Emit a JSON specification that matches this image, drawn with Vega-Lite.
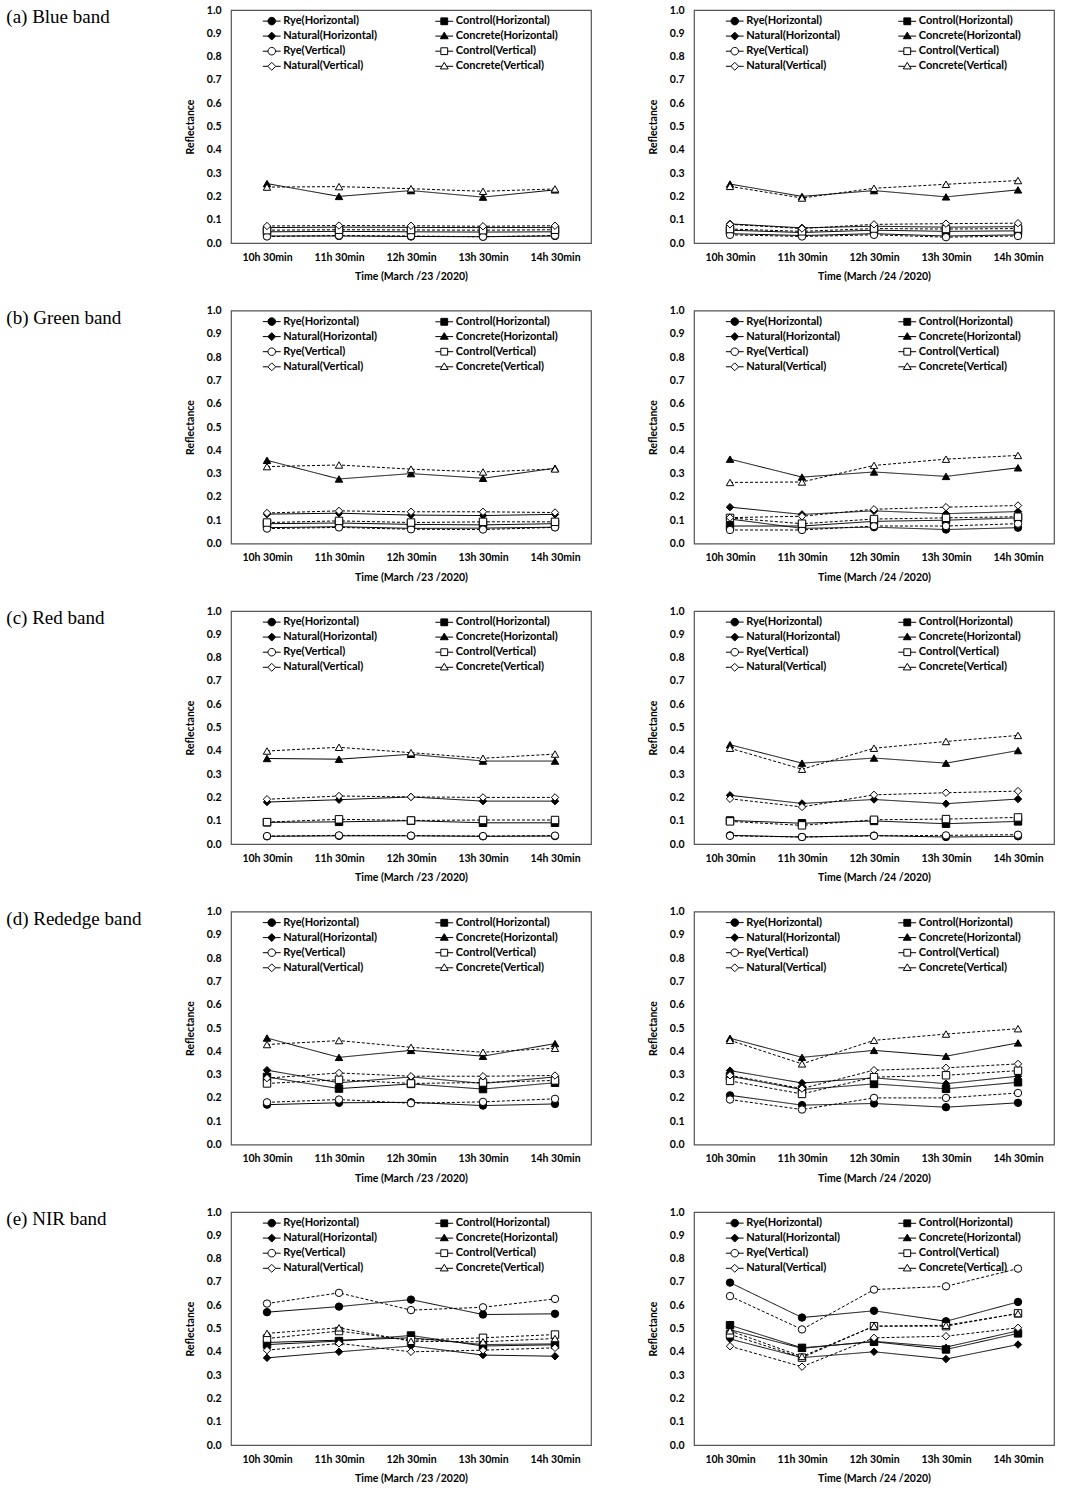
{
"$schema": "https://vega.github.io/schema/vega-lite/v6.json",
"padding": {"left": 5, "top": 4, "right": 5, "bottom": 5},
"datasets": {
"a23": [
{"series":"Rye(Horizontal)","time":"10h 30min","value":0.030},{"series":"Rye(Horizontal)","time":"11h 30min","value":0.030},{"series":"Rye(Horizontal)","time":"12h 30min","value":0.028},{"series":"Rye(Horizontal)","time":"13h 30min","value":0.027},{"series":"Rye(Horizontal)","time":"14h 30min","value":0.030},
{"series":"Control(Horizontal)","time":"10h 30min","value":0.048},{"series":"Control(Horizontal)","time":"11h 30min","value":0.050},{"series":"Control(Horizontal)","time":"12h 30min","value":0.048},{"series":"Control(Horizontal)","time":"13h 30min","value":0.047},{"series":"Control(Horizontal)","time":"14h 30min","value":0.048},
{"series":"Natural(Horizontal)","time":"10h 30min","value":0.066},{"series":"Natural(Horizontal)","time":"11h 30min","value":0.068},{"series":"Natural(Horizontal)","time":"12h 30min","value":0.067},{"series":"Natural(Horizontal)","time":"13h 30min","value":0.066},{"series":"Natural(Horizontal)","time":"14h 30min","value":0.067},
{"series":"Concrete(Horizontal)","time":"10h 30min","value":0.255},{"series":"Concrete(Horizontal)","time":"11h 30min","value":0.200},{"series":"Concrete(Horizontal)","time":"12h 30min","value":0.225},{"series":"Concrete(Horizontal)","time":"13h 30min","value":0.197},{"series":"Concrete(Horizontal)","time":"14h 30min","value":0.228},
{"series":"Rye(Vertical)","time":"10h 30min","value":0.028},{"series":"Rye(Vertical)","time":"11h 30min","value":0.032},{"series":"Rye(Vertical)","time":"12h 30min","value":0.030},{"series":"Rye(Vertical)","time":"13h 30min","value":0.027},{"series":"Rye(Vertical)","time":"14h 30min","value":0.032},
{"series":"Control(Vertical)","time":"10h 30min","value":0.055},{"series":"Control(Vertical)","time":"11h 30min","value":0.057},{"series":"Control(Vertical)","time":"12h 30min","value":0.056},{"series":"Control(Vertical)","time":"13h 30min","value":0.055},{"series":"Control(Vertical)","time":"14h 30min","value":0.057},
{"series":"Natural(Vertical)","time":"10h 30min","value":0.073},{"series":"Natural(Vertical)","time":"11h 30min","value":0.075},{"series":"Natural(Vertical)","time":"12h 30min","value":0.074},{"series":"Natural(Vertical)","time":"13h 30min","value":0.072},{"series":"Natural(Vertical)","time":"14h 30min","value":0.074},
{"series":"Concrete(Vertical)","time":"10h 30min","value":0.240},{"series":"Concrete(Vertical)","time":"11h 30min","value":0.242},{"series":"Concrete(Vertical)","time":"12h 30min","value":0.233},{"series":"Concrete(Vertical)","time":"13h 30min","value":0.222},{"series":"Concrete(Vertical)","time":"14h 30min","value":0.232}
],
"a24": [
{"series":"Rye(Horizontal)","time":"10h 30min","value":0.040},{"series":"Rye(Horizontal)","time":"11h 30min","value":0.032},{"series":"Rye(Horizontal)","time":"12h 30min","value":0.040},{"series":"Rye(Horizontal)","time":"13h 30min","value":0.030},{"series":"Rye(Horizontal)","time":"14h 30min","value":0.035},
{"series":"Control(Horizontal)","time":"10h 30min","value":0.055},{"series":"Control(Horizontal)","time":"11h 30min","value":0.045},{"series":"Control(Horizontal)","time":"12h 30min","value":0.055},{"series":"Control(Horizontal)","time":"13h 30min","value":0.050},{"series":"Control(Horizontal)","time":"14h 30min","value":0.052},
{"series":"Natural(Horizontal)","time":"10h 30min","value":0.082},{"series":"Natural(Horizontal)","time":"11h 30min","value":0.065},{"series":"Natural(Horizontal)","time":"12h 30min","value":0.072},{"series":"Natural(Horizontal)","time":"13h 30min","value":0.068},{"series":"Natural(Horizontal)","time":"14h 30min","value":0.070},
{"series":"Concrete(Horizontal)","time":"10h 30min","value":0.253},{"series":"Concrete(Horizontal)","time":"11h 30min","value":0.200},{"series":"Concrete(Horizontal)","time":"12h 30min","value":0.225},{"series":"Concrete(Horizontal)","time":"13h 30min","value":0.198},{"series":"Concrete(Horizontal)","time":"14h 30min","value":0.228},
{"series":"Rye(Vertical)","time":"10h 30min","value":0.035},{"series":"Rye(Vertical)","time":"11h 30min","value":0.028},{"series":"Rye(Vertical)","time":"12h 30min","value":0.035},{"series":"Rye(Vertical)","time":"13h 30min","value":0.025},{"series":"Rye(Vertical)","time":"14h 30min","value":0.030},
{"series":"Control(Vertical)","time":"10h 30min","value":0.060},{"series":"Control(Vertical)","time":"11h 30min","value":0.050},{"series":"Control(Vertical)","time":"12h 30min","value":0.062},{"series":"Control(Vertical)","time":"13h 30min","value":0.060},{"series":"Control(Vertical)","time":"14h 30min","value":0.062},
{"series":"Natural(Vertical)","time":"10h 30min","value":0.080},{"series":"Natural(Vertical)","time":"11h 30min","value":0.062},{"series":"Natural(Vertical)","time":"12h 30min","value":0.080},{"series":"Natural(Vertical)","time":"13h 30min","value":0.083},{"series":"Natural(Vertical)","time":"14h 30min","value":0.085},
{"series":"Concrete(Vertical)","time":"10h 30min","value":0.243},{"series":"Concrete(Vertical)","time":"11h 30min","value":0.193},{"series":"Concrete(Vertical)","time":"12h 30min","value":0.235},{"series":"Concrete(Vertical)","time":"13h 30min","value":0.252},{"series":"Concrete(Vertical)","time":"14h 30min","value":0.268}
],
"b23": [
{"series":"Rye(Horizontal)","time":"10h 30min","value":0.068},{"series":"Rye(Horizontal)","time":"11h 30min","value":0.072},{"series":"Rye(Horizontal)","time":"12h 30min","value":0.065},{"series":"Rye(Horizontal)","time":"13h 30min","value":0.066},{"series":"Rye(Horizontal)","time":"14h 30min","value":0.070},
{"series":"Control(Horizontal)","time":"10h 30min","value":0.085},{"series":"Control(Horizontal)","time":"11h 30min","value":0.088},{"series":"Control(Horizontal)","time":"12h 30min","value":0.082},{"series":"Control(Horizontal)","time":"13h 30min","value":0.080},{"series":"Control(Horizontal)","time":"14h 30min","value":0.085},
{"series":"Natural(Horizontal)","time":"10h 30min","value":0.126},{"series":"Natural(Horizontal)","time":"11h 30min","value":0.130},{"series":"Natural(Horizontal)","time":"12h 30min","value":0.122},{"series":"Natural(Horizontal)","time":"13h 30min","value":0.120},{"series":"Natural(Horizontal)","time":"14h 30min","value":0.125},
{"series":"Concrete(Horizontal)","time":"10h 30min","value":0.357},{"series":"Concrete(Horizontal)","time":"11h 30min","value":0.277},{"series":"Concrete(Horizontal)","time":"12h 30min","value":0.300},{"series":"Concrete(Horizontal)","time":"13h 30min","value":0.280},{"series":"Concrete(Horizontal)","time":"14h 30min","value":0.323},
{"series":"Rye(Vertical)","time":"10h 30min","value":0.064},{"series":"Rye(Vertical)","time":"11h 30min","value":0.069},{"series":"Rye(Vertical)","time":"12h 30min","value":0.061},{"series":"Rye(Vertical)","time":"13h 30min","value":0.060},{"series":"Rye(Vertical)","time":"14h 30min","value":0.069},
{"series":"Control(Vertical)","time":"10h 30min","value":0.090},{"series":"Control(Vertical)","time":"11h 30min","value":0.097},{"series":"Control(Vertical)","time":"12h 30min","value":0.090},{"series":"Control(Vertical)","time":"13h 30min","value":0.093},{"series":"Control(Vertical)","time":"14h 30min","value":0.093},
{"series":"Natural(Vertical)","time":"10h 30min","value":0.131},{"series":"Natural(Vertical)","time":"11h 30min","value":0.140},{"series":"Natural(Vertical)","time":"12h 30min","value":0.136},{"series":"Natural(Vertical)","time":"13h 30min","value":0.136},{"series":"Natural(Vertical)","time":"14h 30min","value":0.133},
{"series":"Concrete(Vertical)","time":"10h 30min","value":0.330},{"series":"Concrete(Vertical)","time":"11h 30min","value":0.337},{"series":"Concrete(Vertical)","time":"12h 30min","value":0.319},{"series":"Concrete(Vertical)","time":"13h 30min","value":0.307},{"series":"Concrete(Vertical)","time":"14h 30min","value":0.320}
],
"b24": [
{"series":"Rye(Horizontal)","time":"10h 30min","value":0.105},{"series":"Rye(Horizontal)","time":"11h 30min","value":0.065},{"series":"Rye(Horizontal)","time":"12h 30min","value":0.070},{"series":"Rye(Horizontal)","time":"13h 30min","value":0.060},{"series":"Rye(Horizontal)","time":"14h 30min","value":0.068},
{"series":"Control(Horizontal)","time":"10h 30min","value":0.075},{"series":"Control(Horizontal)","time":"11h 30min","value":0.075},{"series":"Control(Horizontal)","time":"12h 30min","value":0.095},{"series":"Control(Horizontal)","time":"13h 30min","value":0.100},{"series":"Control(Horizontal)","time":"14h 30min","value":0.110},
{"series":"Natural(Horizontal)","time":"10h 30min","value":0.156},{"series":"Natural(Horizontal)","time":"11h 30min","value":0.125},{"series":"Natural(Horizontal)","time":"12h 30min","value":0.140},{"series":"Natural(Horizontal)","time":"13h 30min","value":0.128},{"series":"Natural(Horizontal)","time":"14h 30min","value":0.137},
{"series":"Concrete(Horizontal)","time":"10h 30min","value":0.362},{"series":"Concrete(Horizontal)","time":"11h 30min","value":0.285},{"series":"Concrete(Horizontal)","time":"12h 30min","value":0.307},{"series":"Concrete(Horizontal)","time":"13h 30min","value":0.288},{"series":"Concrete(Horizontal)","time":"14h 30min","value":0.325},
{"series":"Rye(Vertical)","time":"10h 30min","value":0.058},{"series":"Rye(Vertical)","time":"11h 30min","value":0.058},{"series":"Rye(Vertical)","time":"12h 30min","value":0.075},{"series":"Rye(Vertical)","time":"13h 30min","value":0.075},{"series":"Rye(Vertical)","time":"14h 30min","value":0.085},
{"series":"Control(Vertical)","time":"10h 30min","value":0.110},{"series":"Control(Vertical)","time":"11h 30min","value":0.085},{"series":"Control(Vertical)","time":"12h 30min","value":0.105},{"series":"Control(Vertical)","time":"13h 30min","value":0.110},{"series":"Control(Vertical)","time":"14h 30min","value":0.115},
{"series":"Natural(Vertical)","time":"10h 30min","value":0.111},{"series":"Natural(Vertical)","time":"11h 30min","value":0.117},{"series":"Natural(Vertical)","time":"12h 30min","value":0.147},{"series":"Natural(Vertical)","time":"13h 30min","value":0.156},{"series":"Natural(Vertical)","time":"14h 30min","value":0.163},
{"series":"Concrete(Vertical)","time":"10h 30min","value":0.262},{"series":"Concrete(Vertical)","time":"11h 30min","value":0.264},{"series":"Concrete(Vertical)","time":"12h 30min","value":0.335},{"series":"Concrete(Vertical)","time":"13h 30min","value":0.362},{"series":"Concrete(Vertical)","time":"14h 30min","value":0.378}
],
"c23": [
{"series":"Rye(Horizontal)","time":"10h 30min","value":0.033},{"series":"Rye(Horizontal)","time":"11h 30min","value":0.035},{"series":"Rye(Horizontal)","time":"12h 30min","value":0.035},{"series":"Rye(Horizontal)","time":"13h 30min","value":0.033},{"series":"Rye(Horizontal)","time":"14h 30min","value":0.034},
{"series":"Control(Horizontal)","time":"10h 30min","value":0.093},{"series":"Control(Horizontal)","time":"11h 30min","value":0.095},{"series":"Control(Horizontal)","time":"12h 30min","value":0.100},{"series":"Control(Horizontal)","time":"13h 30min","value":0.091},{"series":"Control(Horizontal)","time":"14h 30min","value":0.091},
{"series":"Natural(Horizontal)","time":"10h 30min","value":0.180},{"series":"Natural(Horizontal)","time":"11h 30min","value":0.190},{"series":"Natural(Horizontal)","time":"12h 30min","value":0.202},{"series":"Natural(Horizontal)","time":"13h 30min","value":0.184},{"series":"Natural(Horizontal)","time":"14h 30min","value":0.184},
{"series":"Concrete(Horizontal)","time":"10h 30min","value":0.367},{"series":"Concrete(Horizontal)","time":"11h 30min","value":0.364},{"series":"Concrete(Horizontal)","time":"12h 30min","value":0.385},{"series":"Concrete(Horizontal)","time":"13h 30min","value":0.356},{"series":"Concrete(Horizontal)","time":"14h 30min","value":0.356},
{"series":"Rye(Vertical)","time":"10h 30min","value":0.034},{"series":"Rye(Vertical)","time":"11h 30min","value":0.037},{"series":"Rye(Vertical)","time":"12h 30min","value":0.036},{"series":"Rye(Vertical)","time":"13h 30min","value":0.034},{"series":"Rye(Vertical)","time":"14h 30min","value":0.036},
{"series":"Control(Vertical)","time":"10h 30min","value":0.094},{"series":"Control(Vertical)","time":"11h 30min","value":0.106},{"series":"Control(Vertical)","time":"12h 30min","value":0.101},{"series":"Control(Vertical)","time":"13h 30min","value":0.103},{"series":"Control(Vertical)","time":"14h 30min","value":0.103},
{"series":"Natural(Vertical)","time":"10h 30min","value":0.192},{"series":"Natural(Vertical)","time":"11h 30min","value":0.206},{"series":"Natural(Vertical)","time":"12h 30min","value":0.202},{"series":"Natural(Vertical)","time":"13h 30min","value":0.200},{"series":"Natural(Vertical)","time":"14h 30min","value":0.200},
{"series":"Concrete(Vertical)","time":"10h 30min","value":0.399},{"series":"Concrete(Vertical)","time":"11h 30min","value":0.415},{"series":"Concrete(Vertical)","time":"12h 30min","value":0.392},{"series":"Concrete(Vertical)","time":"13h 30min","value":0.368},{"series":"Concrete(Vertical)","time":"14h 30min","value":0.386}
],
"c24": [
{"series":"Rye(Horizontal)","time":"10h 30min","value":0.037},{"series":"Rye(Horizontal)","time":"11h 30min","value":0.030},{"series":"Rye(Horizontal)","time":"12h 30min","value":0.036},{"series":"Rye(Horizontal)","time":"13h 30min","value":0.030},{"series":"Rye(Horizontal)","time":"14h 30min","value":0.033},
{"series":"Control(Horizontal)","time":"10h 30min","value":0.101},{"series":"Control(Horizontal)","time":"11h 30min","value":0.089},{"series":"Control(Horizontal)","time":"12h 30min","value":0.099},{"series":"Control(Horizontal)","time":"13h 30min","value":0.087},{"series":"Control(Horizontal)","time":"14h 30min","value":0.097},
{"series":"Natural(Horizontal)","time":"10h 30min","value":0.209},{"series":"Natural(Horizontal)","time":"11h 30min","value":0.174},{"series":"Natural(Horizontal)","time":"12h 30min","value":0.191},{"series":"Natural(Horizontal)","time":"13h 30min","value":0.173},{"series":"Natural(Horizontal)","time":"14h 30min","value":0.193},
{"series":"Concrete(Horizontal)","time":"10h 30min","value":0.426},{"series":"Concrete(Horizontal)","time":"11h 30min","value":0.347},{"series":"Concrete(Horizontal)","time":"12h 30min","value":0.369},{"series":"Concrete(Horizontal)","time":"13h 30min","value":0.347},{"series":"Concrete(Horizontal)","time":"14h 30min","value":0.401},
{"series":"Rye(Vertical)","time":"10h 30min","value":0.035},{"series":"Rye(Vertical)","time":"11h 30min","value":0.030},{"series":"Rye(Vertical)","time":"12h 30min","value":0.035},{"series":"Rye(Vertical)","time":"13h 30min","value":0.037},{"series":"Rye(Vertical)","time":"14h 30min","value":0.040},
{"series":"Control(Vertical)","time":"10h 30min","value":0.097},{"series":"Control(Vertical)","time":"11h 30min","value":0.080},{"series":"Control(Vertical)","time":"12h 30min","value":0.104},{"series":"Control(Vertical)","time":"13h 30min","value":0.107},{"series":"Control(Vertical)","time":"14h 30min","value":0.114},
{"series":"Natural(Vertical)","time":"10h 30min","value":0.194},{"series":"Natural(Vertical)","time":"11h 30min","value":0.159},{"series":"Natural(Vertical)","time":"12h 30min","value":0.211},{"series":"Natural(Vertical)","time":"13h 30min","value":0.220},{"series":"Natural(Vertical)","time":"14h 30min","value":0.227},
{"series":"Concrete(Vertical)","time":"10h 30min","value":0.411},{"series":"Concrete(Vertical)","time":"11h 30min","value":0.321},{"series":"Concrete(Vertical)","time":"12h 30min","value":0.411},{"series":"Concrete(Vertical)","time":"13h 30min","value":0.440},{"series":"Concrete(Vertical)","time":"14h 30min","value":0.466}
],
"d23": [
{"series":"Rye(Horizontal)","time":"10h 30min","value":0.171},{"series":"Rye(Horizontal)","time":"11h 30min","value":0.179},{"series":"Rye(Horizontal)","time":"12h 30min","value":0.181},{"series":"Rye(Horizontal)","time":"13h 30min","value":0.167},{"series":"Rye(Horizontal)","time":"14h 30min","value":0.174},
{"series":"Control(Horizontal)","time":"10h 30min","value":0.290},{"series":"Control(Horizontal)","time":"11h 30min","value":0.240},{"series":"Control(Horizontal)","time":"12h 30min","value":0.260},{"series":"Control(Horizontal)","time":"13h 30min","value":0.238},{"series":"Control(Horizontal)","time":"14h 30min","value":0.265},
{"series":"Natural(Horizontal)","time":"10h 30min","value":0.319},{"series":"Natural(Horizontal)","time":"11h 30min","value":0.265},{"series":"Natural(Horizontal)","time":"12h 30min","value":0.290},{"series":"Natural(Horizontal)","time":"13h 30min","value":0.262},{"series":"Natural(Horizontal)","time":"14h 30min","value":0.290},
{"series":"Concrete(Horizontal)","time":"10h 30min","value":0.457},{"series":"Concrete(Horizontal)","time":"11h 30min","value":0.374},{"series":"Concrete(Horizontal)","time":"12h 30min","value":0.404},{"series":"Concrete(Horizontal)","time":"13h 30min","value":0.379},{"series":"Concrete(Horizontal)","time":"14h 30min","value":0.433},
{"series":"Rye(Vertical)","time":"10h 30min","value":0.181},{"series":"Rye(Vertical)","time":"11h 30min","value":0.193},{"series":"Rye(Vertical)","time":"12h 30min","value":0.177},{"series":"Rye(Vertical)","time":"13h 30min","value":0.183},{"series":"Rye(Vertical)","time":"14h 30min","value":0.196},
{"series":"Control(Vertical)","time":"10h 30min","value":0.262},{"series":"Control(Vertical)","time":"11h 30min","value":0.278},{"series":"Control(Vertical)","time":"12h 30min","value":0.262},{"series":"Control(Vertical)","time":"13h 30min","value":0.266},{"series":"Control(Vertical)","time":"14h 30min","value":0.275},
{"series":"Natural(Vertical)","time":"10h 30min","value":0.285},{"series":"Natural(Vertical)","time":"11h 30min","value":0.307},{"series":"Natural(Vertical)","time":"12h 30min","value":0.293},{"series":"Natural(Vertical)","time":"13h 30min","value":0.293},{"series":"Natural(Vertical)","time":"14h 30min","value":0.296},
{"series":"Concrete(Vertical)","time":"10h 30min","value":0.429},{"series":"Concrete(Vertical)","time":"11h 30min","value":0.446},{"series":"Concrete(Vertical)","time":"12h 30min","value":0.417},{"series":"Concrete(Vertical)","time":"13h 30min","value":0.396},{"series":"Concrete(Vertical)","time":"14h 30min","value":0.413}
],
"d24": [
{"series":"Rye(Horizontal)","time":"10h 30min","value":0.211},{"series":"Rye(Horizontal)","time":"11h 30min","value":0.169},{"series":"Rye(Horizontal)","time":"12h 30min","value":0.176},{"series":"Rye(Horizontal)","time":"13h 30min","value":0.160},{"series":"Rye(Horizontal)","time":"14h 30min","value":0.179},
{"series":"Control(Horizontal)","time":"10h 30min","value":0.293},{"series":"Control(Horizontal)","time":"11h 30min","value":0.236},{"series":"Control(Horizontal)","time":"12h 30min","value":0.260},{"series":"Control(Horizontal)","time":"13h 30min","value":0.239},{"series":"Control(Horizontal)","time":"14h 30min","value":0.267},
{"series":"Natural(Horizontal)","time":"10h 30min","value":0.317},{"series":"Natural(Horizontal)","time":"11h 30min","value":0.264},{"series":"Natural(Horizontal)","time":"12h 30min","value":0.286},{"series":"Natural(Horizontal)","time":"13h 30min","value":0.261},{"series":"Natural(Horizontal)","time":"14h 30min","value":0.293},
{"series":"Concrete(Horizontal)","time":"10h 30min","value":0.456},{"series":"Concrete(Horizontal)","time":"11h 30min","value":0.374},{"series":"Concrete(Horizontal)","time":"12h 30min","value":0.404},{"series":"Concrete(Horizontal)","time":"13h 30min","value":0.379},{"series":"Concrete(Horizontal)","time":"14h 30min","value":0.436},
{"series":"Rye(Vertical)","time":"10h 30min","value":0.193},{"series":"Rye(Vertical)","time":"11h 30min","value":0.150},{"series":"Rye(Vertical)","time":"12h 30min","value":0.200},{"series":"Rye(Vertical)","time":"13h 30min","value":0.200},{"series":"Rye(Vertical)","time":"14h 30min","value":0.221},
{"series":"Control(Vertical)","time":"10h 30min","value":0.273},{"series":"Control(Vertical)","time":"11h 30min","value":0.217},{"series":"Control(Vertical)","time":"12h 30min","value":0.289},{"series":"Control(Vertical)","time":"13h 30min","value":0.297},{"series":"Control(Vertical)","time":"14h 30min","value":0.317},
{"series":"Natural(Vertical)","time":"10h 30min","value":0.297},{"series":"Natural(Vertical)","time":"11h 30min","value":0.240},{"series":"Natural(Vertical)","time":"12h 30min","value":0.319},{"series":"Natural(Vertical)","time":"13h 30min","value":0.329},{"series":"Natural(Vertical)","time":"14h 30min","value":0.346},
{"series":"Concrete(Vertical)","time":"10h 30min","value":0.447},{"series":"Concrete(Vertical)","time":"11h 30min","value":0.346},{"series":"Concrete(Vertical)","time":"12h 30min","value":0.447},{"series":"Concrete(Vertical)","time":"13h 30min","value":0.474},{"series":"Concrete(Vertical)","time":"14h 30min","value":0.497}
],
"e23": [
{"series":"Rye(Horizontal)","time":"10h 30min","value":0.570},{"series":"Rye(Horizontal)","time":"11h 30min","value":0.594},{"series":"Rye(Horizontal)","time":"12h 30min","value":0.624},{"series":"Rye(Horizontal)","time":"13h 30min","value":0.560},{"series":"Rye(Horizontal)","time":"14h 30min","value":0.563},
{"series":"Control(Horizontal)","time":"10h 30min","value":0.431},{"series":"Control(Horizontal)","time":"11h 30min","value":0.446},{"series":"Control(Horizontal)","time":"12h 30min","value":0.470},{"series":"Control(Horizontal)","time":"13h 30min","value":0.425},{"series":"Control(Horizontal)","time":"14h 30min","value":0.430},
{"series":"Natural(Horizontal)","time":"10h 30min","value":0.374},{"series":"Natural(Horizontal)","time":"11h 30min","value":0.400},{"series":"Natural(Horizontal)","time":"12h 30min","value":0.425},{"series":"Natural(Horizontal)","time":"13h 30min","value":0.386},{"series":"Natural(Horizontal)","time":"14h 30min","value":0.381},
{"series":"Concrete(Horizontal)","time":"10h 30min","value":0.440},{"series":"Concrete(Horizontal)","time":"11h 30min","value":0.450},{"series":"Concrete(Horizontal)","time":"12h 30min","value":0.460},{"series":"Concrete(Horizontal)","time":"13h 30min","value":0.431},{"series":"Concrete(Horizontal)","time":"14h 30min","value":0.434},
{"series":"Rye(Vertical)","time":"10h 30min","value":0.607},{"series":"Rye(Vertical)","time":"11h 30min","value":0.653},{"series":"Rye(Vertical)","time":"12h 30min","value":0.579},{"series":"Rye(Vertical)","time":"13h 30min","value":0.591},{"series":"Rye(Vertical)","time":"14h 30min","value":0.627},
{"series":"Control(Vertical)","time":"10h 30min","value":0.457},{"series":"Control(Vertical)","time":"11h 30min","value":0.489},{"series":"Control(Vertical)","time":"12h 30min","value":0.450},{"series":"Control(Vertical)","time":"13h 30min","value":0.460},{"series":"Control(Vertical)","time":"14h 30min","value":0.474},
{"series":"Natural(Vertical)","time":"10h 30min","value":0.407},{"series":"Natural(Vertical)","time":"11h 30min","value":0.436},{"series":"Natural(Vertical)","time":"12h 30min","value":0.400},{"series":"Natural(Vertical)","time":"13h 30min","value":0.407},{"series":"Natural(Vertical)","time":"14h 30min","value":0.417},
{"series":"Concrete(Vertical)","time":"10h 30min","value":0.479},{"series":"Concrete(Vertical)","time":"11h 30min","value":0.503},{"series":"Concrete(Vertical)","time":"12h 30min","value":0.445},{"series":"Concrete(Vertical)","time":"13h 30min","value":0.443},{"series":"Concrete(Vertical)","time":"14h 30min","value":0.457}
],
"e24": [
{"series":"Rye(Horizontal)","time":"10h 30min","value":0.697},{"series":"Rye(Horizontal)","time":"11h 30min","value":0.547},{"series":"Rye(Horizontal)","time":"12h 30min","value":0.576},{"series":"Rye(Horizontal)","time":"13h 30min","value":0.531},{"series":"Rye(Horizontal)","time":"14h 30min","value":0.614},
{"series":"Control(Horizontal)","time":"10h 30min","value":0.514},{"series":"Control(Horizontal)","time":"11h 30min","value":0.417},{"series":"Control(Horizontal)","time":"12h 30min","value":0.443},{"series":"Control(Horizontal)","time":"13h 30min","value":0.410},{"series":"Control(Horizontal)","time":"14h 30min","value":0.479},
{"series":"Natural(Horizontal)","time":"10h 30min","value":0.455},{"series":"Natural(Horizontal)","time":"11h 30min","value":0.375},{"series":"Natural(Horizontal)","time":"12h 30min","value":0.400},{"series":"Natural(Horizontal)","time":"13h 30min","value":0.369},{"series":"Natural(Horizontal)","time":"14h 30min","value":0.431},
{"series":"Concrete(Horizontal)","time":"10h 30min","value":0.495},{"series":"Concrete(Horizontal)","time":"11h 30min","value":0.415},{"series":"Concrete(Horizontal)","time":"12h 30min","value":0.445},{"series":"Concrete(Horizontal)","time":"13h 30min","value":0.420},{"series":"Concrete(Horizontal)","time":"14h 30min","value":0.490},
{"series":"Rye(Vertical)","time":"10h 30min","value":0.639},{"series":"Rye(Vertical)","time":"11h 30min","value":0.496},{"series":"Rye(Vertical)","time":"12h 30min","value":0.667},{"series":"Rye(Vertical)","time":"13h 30min","value":0.681},{"series":"Rye(Vertical)","time":"14h 30min","value":0.757},
{"series":"Control(Vertical)","time":"10h 30min","value":0.475},{"series":"Control(Vertical)","time":"11h 30min","value":0.375},{"series":"Control(Vertical)","time":"12h 30min","value":0.510},{"series":"Control(Vertical)","time":"13h 30min","value":0.510},{"series":"Control(Vertical)","time":"14h 30min","value":0.565},
{"series":"Natural(Vertical)","time":"10h 30min","value":0.424},{"series":"Natural(Vertical)","time":"11h 30min","value":0.336},{"series":"Natural(Vertical)","time":"12h 30min","value":0.460},{"series":"Natural(Vertical)","time":"13h 30min","value":0.467},{"series":"Natural(Vertical)","time":"14h 30min","value":0.503},
{"series":"Concrete(Vertical)","time":"10h 30min","value":0.490},{"series":"Concrete(Vertical)","time":"11h 30min","value":0.380},{"series":"Concrete(Vertical)","time":"12h 30min","value":0.510},{"series":"Concrete(Vertical)","time":"13h 30min","value":0.514},{"series":"Concrete(Vertical)","time":"14h 30min","value":0.564}
]
},
"spacing": 21.5,
"resolve": {"scale": {"shape": "independent", "fill": "independent", "stroke": "independent"}, "legend": {"shape": "independent", "fill": "independent", "stroke": "independent"}},
"vconcat": [
{"hconcat": [
{"data": {"name": "a23"}, "title": "(a) Blue band", "width": 360, "height": 233,
 "encoding": {"x": {"field": "time", "type": "ordinal", "scale": {"type": "point", "padding": 0.5}, "axis": {"title": "Time  (March /23 /2020)"}}, "y": {"field": "value", "type": "quantitative", "scale": {"domain": [0, 1]}, "axis": {"title": "Reflectance", "format": ".1f", "tickCount": 10}}},
 "layer": [
  {"mark": {"type": "line", "color": "black", "strokeWidth": 1}, "encoding": {"detail": {"field": "series"}, "strokeDash": {"condition": {"test": "indexof(datum.series,'Vertical')>0", "value": [3,2]}, "value": [1,0]}}},
  {"mark": {"type": "point", "filled": true, "stroke": "black", "strokeWidth": 1, "size": 55, "opacity": 1}, "encoding": {
   "fill": {"condition": {"test": "indexof(datum.series,'Vertical')>0", "value": "white"}, "value": "black"},
   "shape": {"condition": [{"test": "indexof(datum.series,'Rye')==0", "value": "circle"}, {"test": "indexof(datum.series,'Control')==0", "value": "square"}, {"test": "indexof(datum.series,'Natural')==0", "value": "diamond"}], "value": "triangle-up"}}},
  {"transform": [{"filter": "false"}], "mark": {"type": "point", "filled": true, "strokeWidth": 1}, "encoding": {
   "shape": {"field": "series", "type": "nominal", "title": null, "scale": {"domain": ["Rye(Horizontal)","Control(Horizontal)","Natural(Horizontal)","Concrete(Horizontal)","Rye(Vertical)","Control(Vertical)","Natural(Vertical)","Concrete(Vertical)"], "range": ["M-1.7,0H-0.72M0.72,0H1.7M-0.72,0A0.72,0.72,0,1,0,0.72,0A0.72,0.72,0,1,0,-0.72,0Z","M-1.7,0H-0.65M0.65,0H1.7M-0.65,-0.65H0.65V0.65H-0.65Z","M-1.7,0H-0.75M0.75,0H1.7M0,-0.75L0.75,0L0,0.75L-0.75,0Z","M-1.7,0H-0.45M0.45,0H1.7M0,-0.75L0.75,0.5L-0.75,0.5Z","M-1.7,0H-0.72M0.72,0H1.7M-0.72,0A0.72,0.72,0,1,0,0.72,0A0.72,0.72,0,1,0,-0.72,0Z","M-1.7,0H-0.65M0.65,0H1.7M-0.65,-0.65H0.65V0.65H-0.65Z","M-1.7,0H-0.75M0.75,0H1.7M0,-0.75L0.75,0L0,0.75L-0.75,0Z","M-1.7,0H-0.45M0.45,0H1.7M0,-0.75L0.75,0.5L-0.75,0.5Z"]}},
   "fill": {"field": "series", "type": "nominal", "title": null, "scale": {"domain": ["Rye(Horizontal)","Control(Horizontal)","Natural(Horizontal)","Concrete(Horizontal)","Rye(Vertical)","Control(Vertical)","Natural(Vertical)","Concrete(Vertical)"], "range": ["black","black","black","black","white","white","white","white"]}},
   "stroke": {"field": "series", "type": "nominal", "title": null, "scale": {"domain": ["Rye(Horizontal)","Control(Horizontal)","Natural(Horizontal)","Concrete(Horizontal)","Rye(Vertical)","Control(Vertical)","Natural(Vertical)","Concrete(Vertical)"], "range": ["black","black","black","black","black","black","black","black"]}}}}
 ]},
{"data": {"name": "a24"}, "width": 360, "height": 233,
 "encoding": {"x": {"field": "time", "type": "ordinal", "scale": {"type": "point", "padding": 0.5}, "axis": {"title": "Time  (March /24 /2020)"}}, "y": {"field": "value", "type": "quantitative", "scale": {"domain": [0, 1]}, "axis": {"title": "Reflectance", "format": ".1f", "tickCount": 10}}},
 "layer": [
  {"mark": {"type": "line", "color": "black", "strokeWidth": 1}, "encoding": {"detail": {"field": "series"}, "strokeDash": {"condition": {"test": "indexof(datum.series,'Vertical')>0", "value": [3,2]}, "value": [1,0]}}},
  {"mark": {"type": "point", "filled": true, "stroke": "black", "strokeWidth": 1, "size": 55, "opacity": 1}, "encoding": {
   "fill": {"condition": {"test": "indexof(datum.series,'Vertical')>0", "value": "white"}, "value": "black"},
   "shape": {"condition": [{"test": "indexof(datum.series,'Rye')==0", "value": "circle"}, {"test": "indexof(datum.series,'Control')==0", "value": "square"}, {"test": "indexof(datum.series,'Natural')==0", "value": "diamond"}], "value": "triangle-up"}}},
  {"transform": [{"filter": "false"}], "mark": {"type": "point", "filled": true, "strokeWidth": 1}, "encoding": {
   "shape": {"field": "series", "type": "nominal", "title": null, "scale": {"domain": ["Rye(Horizontal)","Control(Horizontal)","Natural(Horizontal)","Concrete(Horizontal)","Rye(Vertical)","Control(Vertical)","Natural(Vertical)","Concrete(Vertical)"], "range": ["M-1.7,0H-0.72M0.72,0H1.7M-0.72,0A0.72,0.72,0,1,0,0.72,0A0.72,0.72,0,1,0,-0.72,0Z","M-1.7,0H-0.65M0.65,0H1.7M-0.65,-0.65H0.65V0.65H-0.65Z","M-1.7,0H-0.75M0.75,0H1.7M0,-0.75L0.75,0L0,0.75L-0.75,0Z","M-1.7,0H-0.45M0.45,0H1.7M0,-0.75L0.75,0.5L-0.75,0.5Z","M-1.7,0H-0.72M0.72,0H1.7M-0.72,0A0.72,0.72,0,1,0,0.72,0A0.72,0.72,0,1,0,-0.72,0Z","M-1.7,0H-0.65M0.65,0H1.7M-0.65,-0.65H0.65V0.65H-0.65Z","M-1.7,0H-0.75M0.75,0H1.7M0,-0.75L0.75,0L0,0.75L-0.75,0Z","M-1.7,0H-0.45M0.45,0H1.7M0,-0.75L0.75,0.5L-0.75,0.5Z"]}},
   "fill": {"field": "series", "type": "nominal", "title": null, "scale": {"domain": ["Rye(Horizontal)","Control(Horizontal)","Natural(Horizontal)","Concrete(Horizontal)","Rye(Vertical)","Control(Vertical)","Natural(Vertical)","Concrete(Vertical)"], "range": ["black","black","black","black","white","white","white","white"]}},
   "stroke": {"field": "series", "type": "nominal", "title": null, "scale": {"domain": ["Rye(Horizontal)","Control(Horizontal)","Natural(Horizontal)","Concrete(Horizontal)","Rye(Vertical)","Control(Vertical)","Natural(Vertical)","Concrete(Vertical)"], "range": ["black","black","black","black","black","black","black","black"]}}}}
 ]}
], "resolve": {"scale": {"shape": "independent", "fill": "independent", "stroke": "independent"}, "legend": {"shape": "independent", "fill": "independent", "stroke": "independent"}}},
{"hconcat": [
{"data": {"name": "b23"}, "title": "(b) Green band", "width": 360, "height": 233,
 "encoding": {"x": {"field": "time", "type": "ordinal", "scale": {"type": "point", "padding": 0.5}, "axis": {"title": "Time  (March /23 /2020)"}}, "y": {"field": "value", "type": "quantitative", "scale": {"domain": [0, 1]}, "axis": {"title": "Reflectance", "format": ".1f", "tickCount": 10}}},
 "layer": [
  {"mark": {"type": "line", "color": "black", "strokeWidth": 1}, "encoding": {"detail": {"field": "series"}, "strokeDash": {"condition": {"test": "indexof(datum.series,'Vertical')>0", "value": [3,2]}, "value": [1,0]}}},
  {"mark": {"type": "point", "filled": true, "stroke": "black", "strokeWidth": 1, "size": 55, "opacity": 1}, "encoding": {
   "fill": {"condition": {"test": "indexof(datum.series,'Vertical')>0", "value": "white"}, "value": "black"},
   "shape": {"condition": [{"test": "indexof(datum.series,'Rye')==0", "value": "circle"}, {"test": "indexof(datum.series,'Control')==0", "value": "square"}, {"test": "indexof(datum.series,'Natural')==0", "value": "diamond"}], "value": "triangle-up"}}},
  {"transform": [{"filter": "false"}], "mark": {"type": "point", "filled": true, "strokeWidth": 1}, "encoding": {
   "shape": {"field": "series", "type": "nominal", "title": null, "scale": {"domain": ["Rye(Horizontal)","Control(Horizontal)","Natural(Horizontal)","Concrete(Horizontal)","Rye(Vertical)","Control(Vertical)","Natural(Vertical)","Concrete(Vertical)"], "range": ["M-1.7,0H-0.72M0.72,0H1.7M-0.72,0A0.72,0.72,0,1,0,0.72,0A0.72,0.72,0,1,0,-0.72,0Z","M-1.7,0H-0.65M0.65,0H1.7M-0.65,-0.65H0.65V0.65H-0.65Z","M-1.7,0H-0.75M0.75,0H1.7M0,-0.75L0.75,0L0,0.75L-0.75,0Z","M-1.7,0H-0.45M0.45,0H1.7M0,-0.75L0.75,0.5L-0.75,0.5Z","M-1.7,0H-0.72M0.72,0H1.7M-0.72,0A0.72,0.72,0,1,0,0.72,0A0.72,0.72,0,1,0,-0.72,0Z","M-1.7,0H-0.65M0.65,0H1.7M-0.65,-0.65H0.65V0.65H-0.65Z","M-1.7,0H-0.75M0.75,0H1.7M0,-0.75L0.75,0L0,0.75L-0.75,0Z","M-1.7,0H-0.45M0.45,0H1.7M0,-0.75L0.75,0.5L-0.75,0.5Z"]}},
   "fill": {"field": "series", "type": "nominal", "title": null, "scale": {"domain": ["Rye(Horizontal)","Control(Horizontal)","Natural(Horizontal)","Concrete(Horizontal)","Rye(Vertical)","Control(Vertical)","Natural(Vertical)","Concrete(Vertical)"], "range": ["black","black","black","black","white","white","white","white"]}},
   "stroke": {"field": "series", "type": "nominal", "title": null, "scale": {"domain": ["Rye(Horizontal)","Control(Horizontal)","Natural(Horizontal)","Concrete(Horizontal)","Rye(Vertical)","Control(Vertical)","Natural(Vertical)","Concrete(Vertical)"], "range": ["black","black","black","black","black","black","black","black"]}}}}
 ]},
{"data": {"name": "b24"}, "width": 360, "height": 233,
 "encoding": {"x": {"field": "time", "type": "ordinal", "scale": {"type": "point", "padding": 0.5}, "axis": {"title": "Time  (March /24 /2020)"}}, "y": {"field": "value", "type": "quantitative", "scale": {"domain": [0, 1]}, "axis": {"title": "Reflectance", "format": ".1f", "tickCount": 10}}},
 "layer": [
  {"mark": {"type": "line", "color": "black", "strokeWidth": 1}, "encoding": {"detail": {"field": "series"}, "strokeDash": {"condition": {"test": "indexof(datum.series,'Vertical')>0", "value": [3,2]}, "value": [1,0]}}},
  {"mark": {"type": "point", "filled": true, "stroke": "black", "strokeWidth": 1, "size": 55, "opacity": 1}, "encoding": {
   "fill": {"condition": {"test": "indexof(datum.series,'Vertical')>0", "value": "white"}, "value": "black"},
   "shape": {"condition": [{"test": "indexof(datum.series,'Rye')==0", "value": "circle"}, {"test": "indexof(datum.series,'Control')==0", "value": "square"}, {"test": "indexof(datum.series,'Natural')==0", "value": "diamond"}], "value": "triangle-up"}}},
  {"transform": [{"filter": "false"}], "mark": {"type": "point", "filled": true, "strokeWidth": 1}, "encoding": {
   "shape": {"field": "series", "type": "nominal", "title": null, "scale": {"domain": ["Rye(Horizontal)","Control(Horizontal)","Natural(Horizontal)","Concrete(Horizontal)","Rye(Vertical)","Control(Vertical)","Natural(Vertical)","Concrete(Vertical)"], "range": ["M-1.7,0H-0.72M0.72,0H1.7M-0.72,0A0.72,0.72,0,1,0,0.72,0A0.72,0.72,0,1,0,-0.72,0Z","M-1.7,0H-0.65M0.65,0H1.7M-0.65,-0.65H0.65V0.65H-0.65Z","M-1.7,0H-0.75M0.75,0H1.7M0,-0.75L0.75,0L0,0.75L-0.75,0Z","M-1.7,0H-0.45M0.45,0H1.7M0,-0.75L0.75,0.5L-0.75,0.5Z","M-1.7,0H-0.72M0.72,0H1.7M-0.72,0A0.72,0.72,0,1,0,0.72,0A0.72,0.72,0,1,0,-0.72,0Z","M-1.7,0H-0.65M0.65,0H1.7M-0.65,-0.65H0.65V0.65H-0.65Z","M-1.7,0H-0.75M0.75,0H1.7M0,-0.75L0.75,0L0,0.75L-0.75,0Z","M-1.7,0H-0.45M0.45,0H1.7M0,-0.75L0.75,0.5L-0.75,0.5Z"]}},
   "fill": {"field": "series", "type": "nominal", "title": null, "scale": {"domain": ["Rye(Horizontal)","Control(Horizontal)","Natural(Horizontal)","Concrete(Horizontal)","Rye(Vertical)","Control(Vertical)","Natural(Vertical)","Concrete(Vertical)"], "range": ["black","black","black","black","white","white","white","white"]}},
   "stroke": {"field": "series", "type": "nominal", "title": null, "scale": {"domain": ["Rye(Horizontal)","Control(Horizontal)","Natural(Horizontal)","Concrete(Horizontal)","Rye(Vertical)","Control(Vertical)","Natural(Vertical)","Concrete(Vertical)"], "range": ["black","black","black","black","black","black","black","black"]}}}}
 ]}
], "resolve": {"scale": {"shape": "independent", "fill": "independent", "stroke": "independent"}, "legend": {"shape": "independent", "fill": "independent", "stroke": "independent"}}},
{"hconcat": [
{"data": {"name": "c23"}, "title": "(c) Red band", "width": 360, "height": 233,
 "encoding": {"x": {"field": "time", "type": "ordinal", "scale": {"type": "point", "padding": 0.5}, "axis": {"title": "Time  (March /23 /2020)"}}, "y": {"field": "value", "type": "quantitative", "scale": {"domain": [0, 1]}, "axis": {"title": "Reflectance", "format": ".1f", "tickCount": 10}}},
 "layer": [
  {"mark": {"type": "line", "color": "black", "strokeWidth": 1}, "encoding": {"detail": {"field": "series"}, "strokeDash": {"condition": {"test": "indexof(datum.series,'Vertical')>0", "value": [3,2]}, "value": [1,0]}}},
  {"mark": {"type": "point", "filled": true, "stroke": "black", "strokeWidth": 1, "size": 55, "opacity": 1}, "encoding": {
   "fill": {"condition": {"test": "indexof(datum.series,'Vertical')>0", "value": "white"}, "value": "black"},
   "shape": {"condition": [{"test": "indexof(datum.series,'Rye')==0", "value": "circle"}, {"test": "indexof(datum.series,'Control')==0", "value": "square"}, {"test": "indexof(datum.series,'Natural')==0", "value": "diamond"}], "value": "triangle-up"}}},
  {"transform": [{"filter": "false"}], "mark": {"type": "point", "filled": true, "strokeWidth": 1}, "encoding": {
   "shape": {"field": "series", "type": "nominal", "title": null, "scale": {"domain": ["Rye(Horizontal)","Control(Horizontal)","Natural(Horizontal)","Concrete(Horizontal)","Rye(Vertical)","Control(Vertical)","Natural(Vertical)","Concrete(Vertical)"], "range": ["M-1.7,0H-0.72M0.72,0H1.7M-0.72,0A0.72,0.72,0,1,0,0.72,0A0.72,0.72,0,1,0,-0.72,0Z","M-1.7,0H-0.65M0.65,0H1.7M-0.65,-0.65H0.65V0.65H-0.65Z","M-1.7,0H-0.75M0.75,0H1.7M0,-0.75L0.75,0L0,0.75L-0.75,0Z","M-1.7,0H-0.45M0.45,0H1.7M0,-0.75L0.75,0.5L-0.75,0.5Z","M-1.7,0H-0.72M0.72,0H1.7M-0.72,0A0.72,0.72,0,1,0,0.72,0A0.72,0.72,0,1,0,-0.72,0Z","M-1.7,0H-0.65M0.65,0H1.7M-0.65,-0.65H0.65V0.65H-0.65Z","M-1.7,0H-0.75M0.75,0H1.7M0,-0.75L0.75,0L0,0.75L-0.75,0Z","M-1.7,0H-0.45M0.45,0H1.7M0,-0.75L0.75,0.5L-0.75,0.5Z"]}},
   "fill": {"field": "series", "type": "nominal", "title": null, "scale": {"domain": ["Rye(Horizontal)","Control(Horizontal)","Natural(Horizontal)","Concrete(Horizontal)","Rye(Vertical)","Control(Vertical)","Natural(Vertical)","Concrete(Vertical)"], "range": ["black","black","black","black","white","white","white","white"]}},
   "stroke": {"field": "series", "type": "nominal", "title": null, "scale": {"domain": ["Rye(Horizontal)","Control(Horizontal)","Natural(Horizontal)","Concrete(Horizontal)","Rye(Vertical)","Control(Vertical)","Natural(Vertical)","Concrete(Vertical)"], "range": ["black","black","black","black","black","black","black","black"]}}}}
 ]},
{"data": {"name": "c24"}, "width": 360, "height": 233,
 "encoding": {"x": {"field": "time", "type": "ordinal", "scale": {"type": "point", "padding": 0.5}, "axis": {"title": "Time  (March /24 /2020)"}}, "y": {"field": "value", "type": "quantitative", "scale": {"domain": [0, 1]}, "axis": {"title": "Reflectance", "format": ".1f", "tickCount": 10}}},
 "layer": [
  {"mark": {"type": "line", "color": "black", "strokeWidth": 1}, "encoding": {"detail": {"field": "series"}, "strokeDash": {"condition": {"test": "indexof(datum.series,'Vertical')>0", "value": [3,2]}, "value": [1,0]}}},
  {"mark": {"type": "point", "filled": true, "stroke": "black", "strokeWidth": 1, "size": 55, "opacity": 1}, "encoding": {
   "fill": {"condition": {"test": "indexof(datum.series,'Vertical')>0", "value": "white"}, "value": "black"},
   "shape": {"condition": [{"test": "indexof(datum.series,'Rye')==0", "value": "circle"}, {"test": "indexof(datum.series,'Control')==0", "value": "square"}, {"test": "indexof(datum.series,'Natural')==0", "value": "diamond"}], "value": "triangle-up"}}},
  {"transform": [{"filter": "false"}], "mark": {"type": "point", "filled": true, "strokeWidth": 1}, "encoding": {
   "shape": {"field": "series", "type": "nominal", "title": null, "scale": {"domain": ["Rye(Horizontal)","Control(Horizontal)","Natural(Horizontal)","Concrete(Horizontal)","Rye(Vertical)","Control(Vertical)","Natural(Vertical)","Concrete(Vertical)"], "range": ["M-1.7,0H-0.72M0.72,0H1.7M-0.72,0A0.72,0.72,0,1,0,0.72,0A0.72,0.72,0,1,0,-0.72,0Z","M-1.7,0H-0.65M0.65,0H1.7M-0.65,-0.65H0.65V0.65H-0.65Z","M-1.7,0H-0.75M0.75,0H1.7M0,-0.75L0.75,0L0,0.75L-0.75,0Z","M-1.7,0H-0.45M0.45,0H1.7M0,-0.75L0.75,0.5L-0.75,0.5Z","M-1.7,0H-0.72M0.72,0H1.7M-0.72,0A0.72,0.72,0,1,0,0.72,0A0.72,0.72,0,1,0,-0.72,0Z","M-1.7,0H-0.65M0.65,0H1.7M-0.65,-0.65H0.65V0.65H-0.65Z","M-1.7,0H-0.75M0.75,0H1.7M0,-0.75L0.75,0L0,0.75L-0.75,0Z","M-1.7,0H-0.45M0.45,0H1.7M0,-0.75L0.75,0.5L-0.75,0.5Z"]}},
   "fill": {"field": "series", "type": "nominal", "title": null, "scale": {"domain": ["Rye(Horizontal)","Control(Horizontal)","Natural(Horizontal)","Concrete(Horizontal)","Rye(Vertical)","Control(Vertical)","Natural(Vertical)","Concrete(Vertical)"], "range": ["black","black","black","black","white","white","white","white"]}},
   "stroke": {"field": "series", "type": "nominal", "title": null, "scale": {"domain": ["Rye(Horizontal)","Control(Horizontal)","Natural(Horizontal)","Concrete(Horizontal)","Rye(Vertical)","Control(Vertical)","Natural(Vertical)","Concrete(Vertical)"], "range": ["black","black","black","black","black","black","black","black"]}}}}
 ]}
], "resolve": {"scale": {"shape": "independent", "fill": "independent", "stroke": "independent"}, "legend": {"shape": "independent", "fill": "independent", "stroke": "independent"}}},
{"hconcat": [
{"data": {"name": "d23"}, "title": "(d) Rededge band", "width": 360, "height": 233,
 "encoding": {"x": {"field": "time", "type": "ordinal", "scale": {"type": "point", "padding": 0.5}, "axis": {"title": "Time  (March /23 /2020)"}}, "y": {"field": "value", "type": "quantitative", "scale": {"domain": [0, 1]}, "axis": {"title": "Reflectance", "format": ".1f", "tickCount": 10}}},
 "layer": [
  {"mark": {"type": "line", "color": "black", "strokeWidth": 1}, "encoding": {"detail": {"field": "series"}, "strokeDash": {"condition": {"test": "indexof(datum.series,'Vertical')>0", "value": [3,2]}, "value": [1,0]}}},
  {"mark": {"type": "point", "filled": true, "stroke": "black", "strokeWidth": 1, "size": 55, "opacity": 1}, "encoding": {
   "fill": {"condition": {"test": "indexof(datum.series,'Vertical')>0", "value": "white"}, "value": "black"},
   "shape": {"condition": [{"test": "indexof(datum.series,'Rye')==0", "value": "circle"}, {"test": "indexof(datum.series,'Control')==0", "value": "square"}, {"test": "indexof(datum.series,'Natural')==0", "value": "diamond"}], "value": "triangle-up"}}},
  {"transform": [{"filter": "false"}], "mark": {"type": "point", "filled": true, "strokeWidth": 1}, "encoding": {
   "shape": {"field": "series", "type": "nominal", "title": null, "scale": {"domain": ["Rye(Horizontal)","Control(Horizontal)","Natural(Horizontal)","Concrete(Horizontal)","Rye(Vertical)","Control(Vertical)","Natural(Vertical)","Concrete(Vertical)"], "range": ["M-1.7,0H-0.72M0.72,0H1.7M-0.72,0A0.72,0.72,0,1,0,0.72,0A0.72,0.72,0,1,0,-0.72,0Z","M-1.7,0H-0.65M0.65,0H1.7M-0.65,-0.65H0.65V0.65H-0.65Z","M-1.7,0H-0.75M0.75,0H1.7M0,-0.75L0.75,0L0,0.75L-0.75,0Z","M-1.7,0H-0.45M0.45,0H1.7M0,-0.75L0.75,0.5L-0.75,0.5Z","M-1.7,0H-0.72M0.72,0H1.7M-0.72,0A0.72,0.72,0,1,0,0.72,0A0.72,0.72,0,1,0,-0.72,0Z","M-1.7,0H-0.65M0.65,0H1.7M-0.65,-0.65H0.65V0.65H-0.65Z","M-1.7,0H-0.75M0.75,0H1.7M0,-0.75L0.75,0L0,0.75L-0.75,0Z","M-1.7,0H-0.45M0.45,0H1.7M0,-0.75L0.75,0.5L-0.75,0.5Z"]}},
   "fill": {"field": "series", "type": "nominal", "title": null, "scale": {"domain": ["Rye(Horizontal)","Control(Horizontal)","Natural(Horizontal)","Concrete(Horizontal)","Rye(Vertical)","Control(Vertical)","Natural(Vertical)","Concrete(Vertical)"], "range": ["black","black","black","black","white","white","white","white"]}},
   "stroke": {"field": "series", "type": "nominal", "title": null, "scale": {"domain": ["Rye(Horizontal)","Control(Horizontal)","Natural(Horizontal)","Concrete(Horizontal)","Rye(Vertical)","Control(Vertical)","Natural(Vertical)","Concrete(Vertical)"], "range": ["black","black","black","black","black","black","black","black"]}}}}
 ]},
{"data": {"name": "d24"}, "width": 360, "height": 233,
 "encoding": {"x": {"field": "time", "type": "ordinal", "scale": {"type": "point", "padding": 0.5}, "axis": {"title": "Time  (March /24 /2020)"}}, "y": {"field": "value", "type": "quantitative", "scale": {"domain": [0, 1]}, "axis": {"title": "Reflectance", "format": ".1f", "tickCount": 10}}},
 "layer": [
  {"mark": {"type": "line", "color": "black", "strokeWidth": 1}, "encoding": {"detail": {"field": "series"}, "strokeDash": {"condition": {"test": "indexof(datum.series,'Vertical')>0", "value": [3,2]}, "value": [1,0]}}},
  {"mark": {"type": "point", "filled": true, "stroke": "black", "strokeWidth": 1, "size": 55, "opacity": 1}, "encoding": {
   "fill": {"condition": {"test": "indexof(datum.series,'Vertical')>0", "value": "white"}, "value": "black"},
   "shape": {"condition": [{"test": "indexof(datum.series,'Rye')==0", "value": "circle"}, {"test": "indexof(datum.series,'Control')==0", "value": "square"}, {"test": "indexof(datum.series,'Natural')==0", "value": "diamond"}], "value": "triangle-up"}}},
  {"transform": [{"filter": "false"}], "mark": {"type": "point", "filled": true, "strokeWidth": 1}, "encoding": {
   "shape": {"field": "series", "type": "nominal", "title": null, "scale": {"domain": ["Rye(Horizontal)","Control(Horizontal)","Natural(Horizontal)","Concrete(Horizontal)","Rye(Vertical)","Control(Vertical)","Natural(Vertical)","Concrete(Vertical)"], "range": ["M-1.7,0H-0.72M0.72,0H1.7M-0.72,0A0.72,0.72,0,1,0,0.72,0A0.72,0.72,0,1,0,-0.72,0Z","M-1.7,0H-0.65M0.65,0H1.7M-0.65,-0.65H0.65V0.65H-0.65Z","M-1.7,0H-0.75M0.75,0H1.7M0,-0.75L0.75,0L0,0.75L-0.75,0Z","M-1.7,0H-0.45M0.45,0H1.7M0,-0.75L0.75,0.5L-0.75,0.5Z","M-1.7,0H-0.72M0.72,0H1.7M-0.72,0A0.72,0.72,0,1,0,0.72,0A0.72,0.72,0,1,0,-0.72,0Z","M-1.7,0H-0.65M0.65,0H1.7M-0.65,-0.65H0.65V0.65H-0.65Z","M-1.7,0H-0.75M0.75,0H1.7M0,-0.75L0.75,0L0,0.75L-0.75,0Z","M-1.7,0H-0.45M0.45,0H1.7M0,-0.75L0.75,0.5L-0.75,0.5Z"]}},
   "fill": {"field": "series", "type": "nominal", "title": null, "scale": {"domain": ["Rye(Horizontal)","Control(Horizontal)","Natural(Horizontal)","Concrete(Horizontal)","Rye(Vertical)","Control(Vertical)","Natural(Vertical)","Concrete(Vertical)"], "range": ["black","black","black","black","white","white","white","white"]}},
   "stroke": {"field": "series", "type": "nominal", "title": null, "scale": {"domain": ["Rye(Horizontal)","Control(Horizontal)","Natural(Horizontal)","Concrete(Horizontal)","Rye(Vertical)","Control(Vertical)","Natural(Vertical)","Concrete(Vertical)"], "range": ["black","black","black","black","black","black","black","black"]}}}}
 ]}
], "resolve": {"scale": {"shape": "independent", "fill": "independent", "stroke": "independent"}, "legend": {"shape": "independent", "fill": "independent", "stroke": "independent"}}},
{"hconcat": [
{"data": {"name": "e23"}, "title": "(e) NIR band", "width": 360, "height": 233,
 "encoding": {"x": {"field": "time", "type": "ordinal", "scale": {"type": "point", "padding": 0.5}, "axis": {"title": "Time  (March /23 /2020)"}}, "y": {"field": "value", "type": "quantitative", "scale": {"domain": [0, 1]}, "axis": {"title": "Reflectance", "format": ".1f", "tickCount": 10}}},
 "layer": [
  {"mark": {"type": "line", "color": "black", "strokeWidth": 1}, "encoding": {"detail": {"field": "series"}, "strokeDash": {"condition": {"test": "indexof(datum.series,'Vertical')>0", "value": [3,2]}, "value": [1,0]}}},
  {"mark": {"type": "point", "filled": true, "stroke": "black", "strokeWidth": 1, "size": 55, "opacity": 1}, "encoding": {
   "fill": {"condition": {"test": "indexof(datum.series,'Vertical')>0", "value": "white"}, "value": "black"},
   "shape": {"condition": [{"test": "indexof(datum.series,'Rye')==0", "value": "circle"}, {"test": "indexof(datum.series,'Control')==0", "value": "square"}, {"test": "indexof(datum.series,'Natural')==0", "value": "diamond"}], "value": "triangle-up"}}},
  {"transform": [{"filter": "false"}], "mark": {"type": "point", "filled": true, "strokeWidth": 1}, "encoding": {
   "shape": {"field": "series", "type": "nominal", "title": null, "scale": {"domain": ["Rye(Horizontal)","Control(Horizontal)","Natural(Horizontal)","Concrete(Horizontal)","Rye(Vertical)","Control(Vertical)","Natural(Vertical)","Concrete(Vertical)"], "range": ["M-1.7,0H-0.72M0.72,0H1.7M-0.72,0A0.72,0.72,0,1,0,0.72,0A0.72,0.72,0,1,0,-0.72,0Z","M-1.7,0H-0.65M0.65,0H1.7M-0.65,-0.65H0.65V0.65H-0.65Z","M-1.7,0H-0.75M0.75,0H1.7M0,-0.75L0.75,0L0,0.75L-0.75,0Z","M-1.7,0H-0.45M0.45,0H1.7M0,-0.75L0.75,0.5L-0.75,0.5Z","M-1.7,0H-0.72M0.72,0H1.7M-0.72,0A0.72,0.72,0,1,0,0.72,0A0.72,0.72,0,1,0,-0.72,0Z","M-1.7,0H-0.65M0.65,0H1.7M-0.65,-0.65H0.65V0.65H-0.65Z","M-1.7,0H-0.75M0.75,0H1.7M0,-0.75L0.75,0L0,0.75L-0.75,0Z","M-1.7,0H-0.45M0.45,0H1.7M0,-0.75L0.75,0.5L-0.75,0.5Z"]}},
   "fill": {"field": "series", "type": "nominal", "title": null, "scale": {"domain": ["Rye(Horizontal)","Control(Horizontal)","Natural(Horizontal)","Concrete(Horizontal)","Rye(Vertical)","Control(Vertical)","Natural(Vertical)","Concrete(Vertical)"], "range": ["black","black","black","black","white","white","white","white"]}},
   "stroke": {"field": "series", "type": "nominal", "title": null, "scale": {"domain": ["Rye(Horizontal)","Control(Horizontal)","Natural(Horizontal)","Concrete(Horizontal)","Rye(Vertical)","Control(Vertical)","Natural(Vertical)","Concrete(Vertical)"], "range": ["black","black","black","black","black","black","black","black"]}}}}
 ]},
{"data": {"name": "e24"}, "width": 360, "height": 233,
 "encoding": {"x": {"field": "time", "type": "ordinal", "scale": {"type": "point", "padding": 0.5}, "axis": {"title": "Time  (March /24 /2020)"}}, "y": {"field": "value", "type": "quantitative", "scale": {"domain": [0, 1]}, "axis": {"title": "Reflectance", "format": ".1f", "tickCount": 10}}},
 "layer": [
  {"mark": {"type": "line", "color": "black", "strokeWidth": 1}, "encoding": {"detail": {"field": "series"}, "strokeDash": {"condition": {"test": "indexof(datum.series,'Vertical')>0", "value": [3,2]}, "value": [1,0]}}},
  {"mark": {"type": "point", "filled": true, "stroke": "black", "strokeWidth": 1, "size": 55, "opacity": 1}, "encoding": {
   "fill": {"condition": {"test": "indexof(datum.series,'Vertical')>0", "value": "white"}, "value": "black"},
   "shape": {"condition": [{"test": "indexof(datum.series,'Rye')==0", "value": "circle"}, {"test": "indexof(datum.series,'Control')==0", "value": "square"}, {"test": "indexof(datum.series,'Natural')==0", "value": "diamond"}], "value": "triangle-up"}}},
  {"transform": [{"filter": "false"}], "mark": {"type": "point", "filled": true, "strokeWidth": 1}, "encoding": {
   "shape": {"field": "series", "type": "nominal", "title": null, "scale": {"domain": ["Rye(Horizontal)","Control(Horizontal)","Natural(Horizontal)","Concrete(Horizontal)","Rye(Vertical)","Control(Vertical)","Natural(Vertical)","Concrete(Vertical)"], "range": ["M-1.7,0H-0.72M0.72,0H1.7M-0.72,0A0.72,0.72,0,1,0,0.72,0A0.72,0.72,0,1,0,-0.72,0Z","M-1.7,0H-0.65M0.65,0H1.7M-0.65,-0.65H0.65V0.65H-0.65Z","M-1.7,0H-0.75M0.75,0H1.7M0,-0.75L0.75,0L0,0.75L-0.75,0Z","M-1.7,0H-0.45M0.45,0H1.7M0,-0.75L0.75,0.5L-0.75,0.5Z","M-1.7,0H-0.72M0.72,0H1.7M-0.72,0A0.72,0.72,0,1,0,0.72,0A0.72,0.72,0,1,0,-0.72,0Z","M-1.7,0H-0.65M0.65,0H1.7M-0.65,-0.65H0.65V0.65H-0.65Z","M-1.7,0H-0.75M0.75,0H1.7M0,-0.75L0.75,0L0,0.75L-0.75,0Z","M-1.7,0H-0.45M0.45,0H1.7M0,-0.75L0.75,0.5L-0.75,0.5Z"]}},
   "fill": {"field": "series", "type": "nominal", "title": null, "scale": {"domain": ["Rye(Horizontal)","Control(Horizontal)","Natural(Horizontal)","Concrete(Horizontal)","Rye(Vertical)","Control(Vertical)","Natural(Vertical)","Concrete(Vertical)"], "range": ["black","black","black","black","white","white","white","white"]}},
   "stroke": {"field": "series", "type": "nominal", "title": null, "scale": {"domain": ["Rye(Horizontal)","Control(Horizontal)","Natural(Horizontal)","Concrete(Horizontal)","Rye(Vertical)","Control(Vertical)","Natural(Vertical)","Concrete(Vertical)"], "range": ["black","black","black","black","black","black","black","black"]}}}}
 ]}
], "resolve": {"scale": {"shape": "independent", "fill": "independent", "stroke": "independent"}, "legend": {"shape": "independent", "fill": "independent", "stroke": "independent"}}}
],
"config": {
 "font": "Lato",
 "background": "white",
 "concat": {"spacing": 55},
 "view": {"stroke": "#555555", "strokeWidth": 1.2},
 "axis": {"grid": false, "ticks": false, "tickSize": 0, "domain": false, "labelFont": "Lato", "labelFontSize": 10.5, "labelFontWeight": "bold", "labelColor": "black", "titleFont": "Lato", "titleFontSize": 10.5, "titleFontWeight": "bold", "titleColor": "black"},
 "axisX": {"labelAngle": 0, "labelPadding": 9, "titlePadding": 9},
 "axisY": {"labelPadding": 10, "titlePadding": 11},
 "legend": {"orient": "none", "direction": "horizontal", "legendX": 34.75, "legendY": 5, "columns": 2, "columnPadding": 47.5, "rowPadding": 3.1, "gridAlign": "all", "padding": 0, "labelFont": "Lato", "labelFontSize": 11, "labelFontWeight": "bold", "labelColor": "black", "labelOffset": 5.5, "symbolSize": 110, "symbolStrokeColor": "black", "symbolStrokeWidth": 1, "symbolOpacity": 1},
 "title": {"font": "Liberation Serif", "fontSize": 19, "fontWeight": "normal", "color": "black", "anchor": "start", "frame": "bounds", "offset": -22, "dx": -179, "baseline": "alphabetic"}
}
}
